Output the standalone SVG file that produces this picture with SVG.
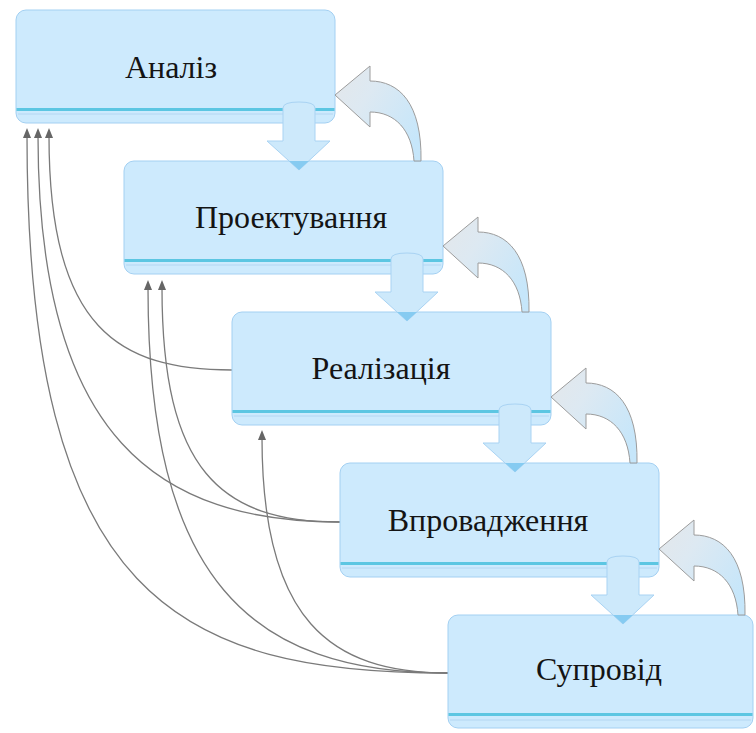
<svg xmlns="http://www.w3.org/2000/svg" width="756" height="733" viewBox="0 0 756 733">
<style>
.box{fill:#cdeafd;stroke:#a3d0f2;stroke-width:1}
.band{fill:#5cc6e2}
.sub{stroke:#b4d6f2;stroke-width:1;fill:none}
.lbl{font-family:"Liberation Serif","Times New Roman",serif;font-size:32px;fill:#141414;text-anchor:middle}
.conn{fill:none;stroke:#7a7a7a;stroke-width:1.3}
.down{fill:#cde9fb;stroke:#a9d3f3;stroke-width:1}
.tipd{fill:#86cbf1}
.back{fill:url(#bg);stroke:#9c9c9c;stroke-width:1}
</style>
<defs>
<marker id="ah" viewBox="0 0 10 8" refX="2" refY="4" markerWidth="10" markerHeight="8" markerUnits="userSpaceOnUse" orient="auto">
<path d="M0,0 L10,4 L0,8 Z" fill="#666"/>
</marker>
<linearGradient id="bg" x1="0" y1="0" x2="1" y2="0.7">
<stop offset="0" stop-color="#e4e7ea"/>
<stop offset="0.4" stop-color="#dde9f2"/>
<stop offset="1" stop-color="#c6e6fa"/>
</linearGradient>
</defs>
<rect width="756" height="733" fill="#ffffff"/>

<g id="connectors">
<path class="conn" d="M232,370 C120,370 49,330 49,136" marker-end="url(#ah)"/>
<path class="conn" d="M340,522 C160,522 38,440 38,136" marker-end="url(#ah)"/>
<path class="conn" d="M448,673 C180,673 27,600 27,136" marker-end="url(#ah)"/>
<path class="conn" d="M340,522 C220,522 162,470 162,288" marker-end="url(#ah)"/>
<path class="conn" d="M448,673 C250,673 148,580 148,288" marker-end="url(#ah)"/>
<path class="conn" d="M448,673 C330,673 262,620 262,438" marker-end="url(#ah)"/>
</g>

<g id="node-analiz">
<rect class="box" x="16" y="10" width="319" height="113" rx="10"/>
<rect class="band" x="16.5" y="108" width="318" height="3"/>
<line class="sub" x1="18" y1="114" x2="333" y2="114"/>
<text class="lbl" x="171" y="78">Аналіз</text>
</g>
<g id="node-proektuvannia">
<rect class="box" x="124" y="161" width="319" height="113" rx="10"/>
<rect class="band" x="124.5" y="259" width="318" height="3"/>
<line class="sub" x1="126" y1="265" x2="441" y2="265"/>
<text class="lbl" x="291" y="228">Проектування</text>
</g>
<g id="node-realizatsiia">
<rect class="box" x="232" y="312" width="319" height="113" rx="10"/>
<rect class="band" x="232.5" y="410" width="318" height="3"/>
<line class="sub" x1="234" y1="416" x2="549" y2="416"/>
<text class="lbl" x="381" y="379">Реалізація</text>
</g>
<g id="node-vprovadzhennia">
<rect class="box" x="340" y="463" width="319" height="114" rx="10"/>
<rect class="band" x="340.5" y="562" width="318" height="3"/>
<line class="sub" x1="342" y1="568" x2="657" y2="568"/>
<text class="lbl" x="488" y="531">Впровадження</text>
</g>
<g id="node-suprovid">
<rect class="box" x="448" y="615" width="305" height="113" rx="10"/>
<rect class="band" x="448.5" y="713" width="304" height="3"/>
<line class="sub" x1="450" y1="720" x2="751" y2="720"/>
<text class="lbl" x="599" y="680">Супровід</text>
</g>

<g id="flow-arrows">
<path class="down" d="M283,140 L283,108 Q283,102 299,102 Q315,102 315,108 L315,141 L330,141 L299,170 L267,141 L283,141 Z"/>
<path class="tipd" d="M289,161 L309,161 L299,170 Z"/>
<path class="down" d="M391,291 L391,259 Q391,253 407,253 Q423,253 423,259 L423,292 L438,292 L407,321 L375,292 L391,292 Z"/>
<path class="tipd" d="M397,312 L417,312 L407,321 Z"/>
<path class="down" d="M499,442 L499,410 Q499,404 515,404 Q531,404 531,410 L531,443 L546,443 L515,472 L483,443 L499,443 Z"/>
<path class="tipd" d="M505,463 L525,463 L515,472 Z"/>
<path class="down" d="M607,594 L607,562 Q607,556 623,556 Q639,556 639,562 L639,595 L654,595 L623,624 L591,595 L607,595 Z"/>
<path class="tipd" d="M613,615 L633,615 L623,624 Z"/>
</g>

<g id="back-arrows">
<path class="back" transform="translate(335,95)" d="M0,0 L35,-29 L35,-14 C64,-14 87,8 86,66 L79,66 C77,35 60,17 35,17 L35,32 Z"/>
<path class="back" transform="translate(443,246)" d="M0,0 L35,-29 L35,-14 C64,-14 87,8 86,66 L79,66 C77,35 60,17 35,17 L35,32 Z"/>
<path class="back" transform="translate(551,397)" d="M0,0 L35,-29 L35,-14 C64,-14 87,8 86,66 L79,66 C77,35 60,17 35,17 L35,32 Z"/>
<path class="back" transform="translate(659,549)" d="M0,0 L35,-29 L35,-14 C64,-14 87,8 86,66 L79,66 C77,35 60,17 35,17 L35,32 Z"/>
</g>
</svg>
